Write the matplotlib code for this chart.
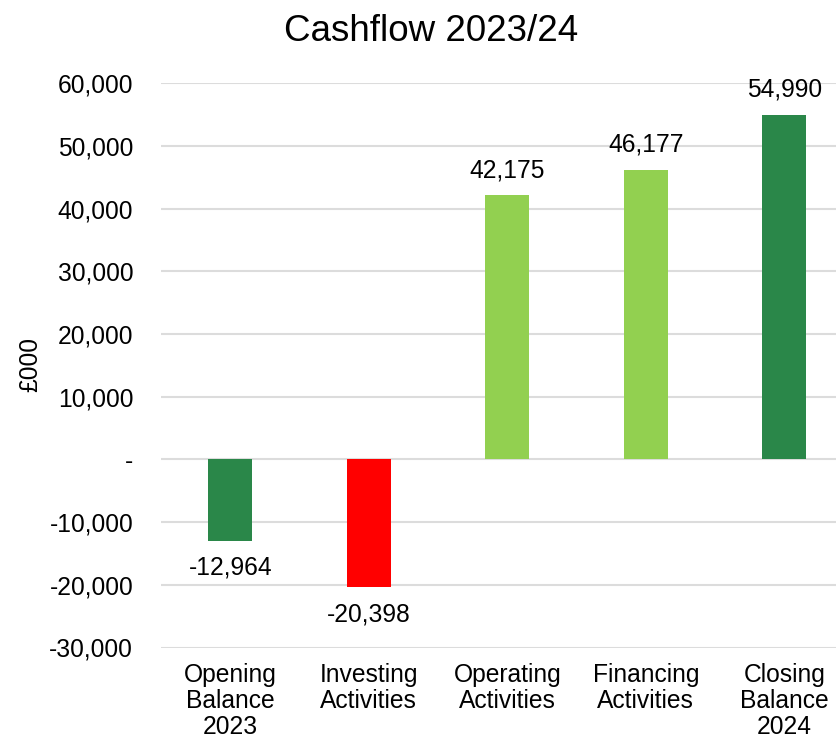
import matplotlib.pyplot as plt
from matplotlib.ticker import FuncFormatter

plt.rcParams['font.family'] = ['Liberation Sans', 'DejaVu Sans']

categories = ['Opening\nBalance\n2023', 'Investing\nActivities', 'Operating\nActivities',
              'Financing\nActivities', 'Closing\nBalance\n2024']
values = [-12964, -20398, 42175, 46177, 54990]
colors = ['#2A8749', '#FF0000', '#92D050', '#92D050', '#2A8749']
yticks = list(range(-30000, 60001, 10000))

fig = plt.figure(figsize=(8.36, 7.4), dpi=100)
ax = fig.add_axes([0.1926, 0.125, 0.8284, 0.7624])

x = range(len(categories))
bars = ax.bar(x, values, width=0.32, color=colors, zorder=3)

for xi, v in zip(x, values):
    off = 25 if v > 0 else -27
    ax.annotate(f'{v:,}', (xi, v), xytext=(0, off), textcoords='offset pixels',
                ha='center', va='center', fontsize=17.7)

ax.set_xlim(-0.5, len(categories) - 0.5)
ax.set_ylim(-30000, 60000)
ax.set_yticks(yticks)
ax.yaxis.set_major_formatter(FuncFormatter(lambda v, p: '-' if v == 0 else f'{v:,.0f}'))
ax.set_xticks(list(x))
ax.set_xticklabels(categories, linespacing=1.12)
ax.tick_params(axis='y', length=0, pad=20, labelsize=17.7)
ax.tick_params(axis='x', length=0, pad=11, labelsize=17.7)
ax.grid(axis='y', color='#DCDCDC', linewidth=1.5, zorder=0)
for s in ax.spines.values():
    s.set_visible(False)

# y label and title placed in figure coords
fig.text(30 / 836, 1 - 364 / 740, '£000', rotation=90, ha='center', va='center', fontsize=17.7)
fig.text(0.5156, 0.957, 'Cashflow 2023/24', ha='center', va='center', fontsize=26.5)

fig.savefig('out.png', dpi=100)
